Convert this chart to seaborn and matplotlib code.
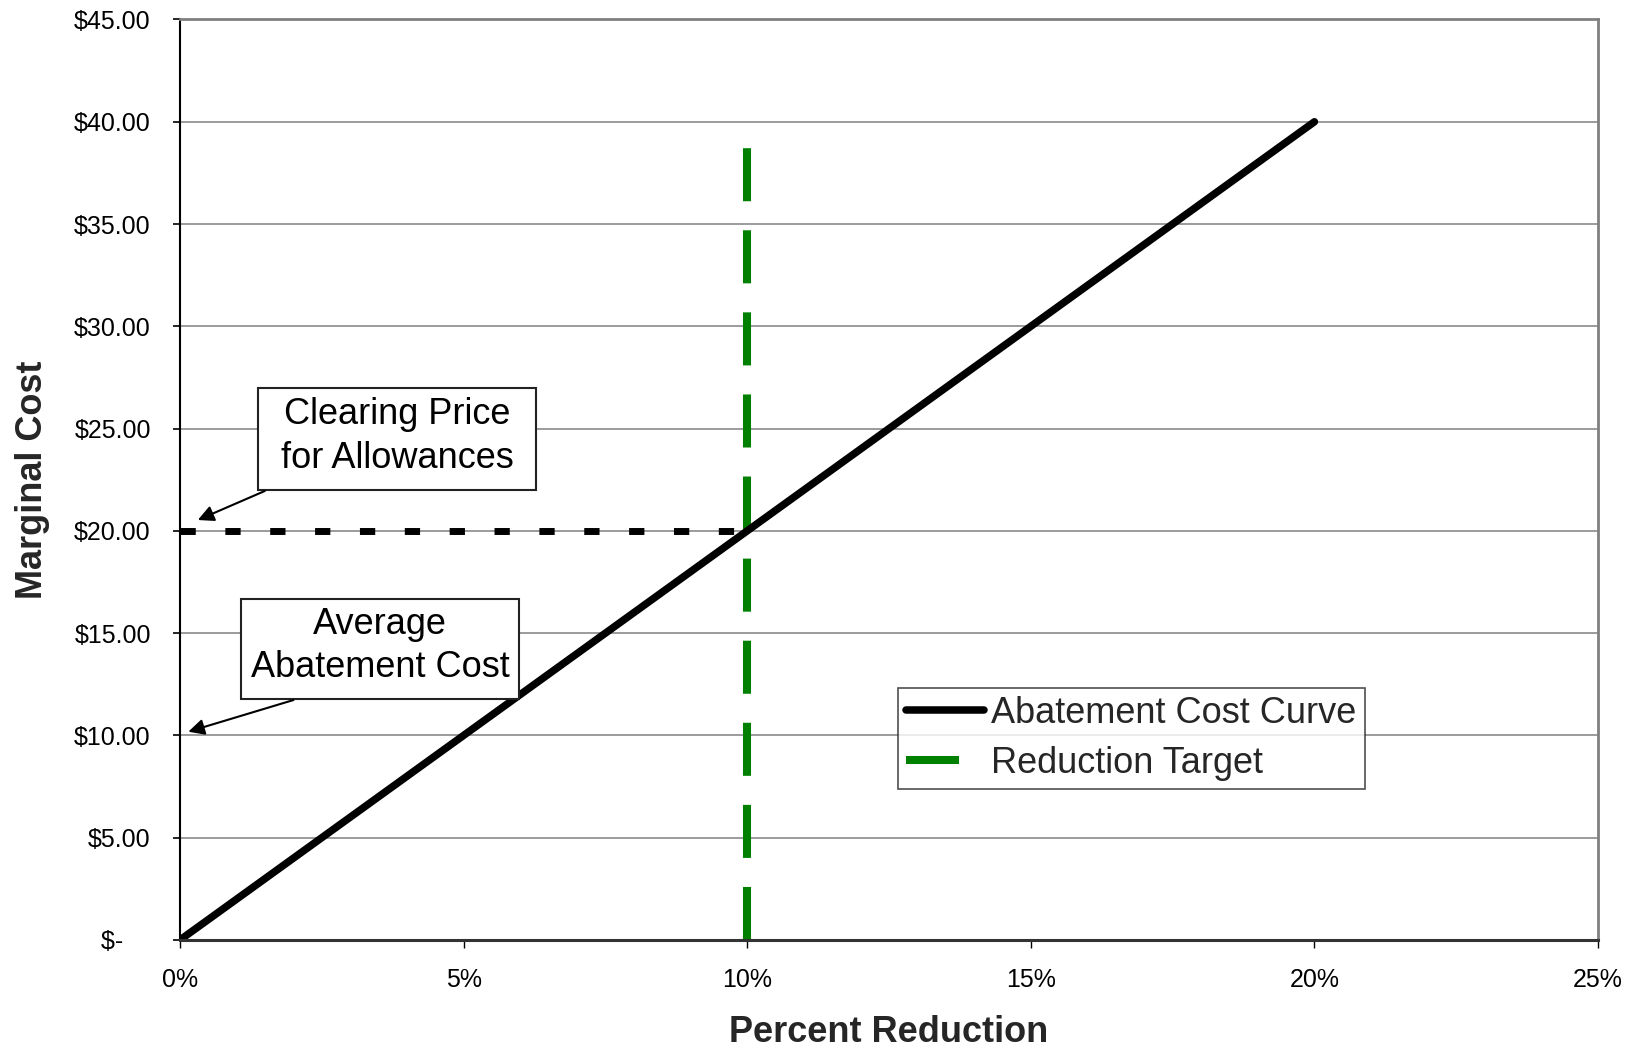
import matplotlib
matplotlib.use("Agg")
import matplotlib.pyplot as plt
import seaborn as sns
from matplotlib.patches import Rectangle
from matplotlib.ticker import FuncFormatter, MultipleLocator

# data
curve_pct = [0.0, 0.20]
curve_cost = [0.0, 40.0]
target_pct = [0.10, 0.10]
target_cost = [0.0, 40.0]
clearing_pct = [0.0, 0.10]
clearing_cost = [20.0, 20.0]

sns.set_style("white")
plt.rcParams["font.family"] = ["Liberation Sans", "DejaVu Sans"]
plt.rcParams["lines.scale_dashes"] = False

fig = plt.figure(figsize=(16.32, 10.48), dpi=100)
ax = fig.add_axes([0.1103, 0.1031, 0.8689, 0.8783])

# gridlines
ax.set_axisbelow(True)
ax.yaxis.grid(True, color="#808080", linewidth=1.1)
ax.xaxis.grid(False)

# horizontal clearing-price line
sns.lineplot(x=clearing_pct, y=clearing_cost, ax=ax, color="black",
             linewidth=5, estimator=None, sort=False)
ax.lines[-1].set_dashes((11, 21.3))
ax.lines[-1].set_clip_on(False)

# reduction target
sns.lineplot(x=target_pct, y=target_cost, ax=ax, color="#008000",
             linewidth=5.8, estimator=None, sort=False, label="Reduction Target")
green = ax.lines[-1]
green.set_dashes((38.2, 20.9))

# abatement cost curve
sns.lineplot(x=curve_pct, y=curve_cost, ax=ax, color="black",
             linewidth=5.4, estimator=None, sort=False, label="Abatement Cost Curve")
black = ax.lines[-1]
black.set_solid_capstyle("round")

ax.set_xlim(0, 0.25)
ax.set_ylim(0, 45)
ax.xaxis.set_major_locator(MultipleLocator(0.05))
ax.yaxis.set_major_locator(MultipleLocator(5))
ax.xaxis.set_major_formatter(FuncFormatter(lambda v, p: f"{v*100:.0f}%"))
ax.yaxis.set_major_formatter(FuncFormatter(lambda v, p: "$-    " if abs(v) < 1e-9 else f"${v:.2f}"))

ax.tick_params(axis="y", direction="out", length=5, width=1.2, pad=16,
               labelsize=18, left=True, colors="black")
ax.tick_params(axis="x", direction="out", length=6, width=1, pad=14,
               labelsize=18, bottom=True, colors="black")

for side in ["top", "right"]:
    ax.spines[side].set_color("#808080")
    ax.spines[side].set_linewidth(2)
ax.spines["left"].set_color("black")
ax.spines["left"].set_linewidth(1.5)
ax.spines["bottom"].set_color("#333333")
ax.spines["bottom"].set_linewidth(2.2)

ax.set_xlabel("Percent Reduction", fontsize=26, fontweight="bold", labelpad=17)
ax.set_ylabel("Marginal Cost", fontsize=26, fontweight="bold", labelpad=17)

# annotation boxes (drawn as rectangles, text centred, arrows separate)
arrow = dict(arrowstyle="-|>", color="black", linewidth=1.5, mutation_scale=24,
             shrinkA=0, shrinkB=0)
notes = [
    ("Clearing Price\nfor Allowances", (0.0138, 21.99), 0.04893, 4.97,
     (0.01495, 21.95), (0.00314, 20.53)),
    ("Average\nAbatement Cost", (0.01075, 11.76), 0.04907, 4.91,
     (0.02001, 11.73), (0.00146, 10.18)),
]
for txt, (x0, y0), w, h, start, tip in notes:
    ax.add_patch(Rectangle((x0, y0), w, h, facecolor="white", edgecolor="#222222",
                           linewidth=1.5, zorder=5))
    ax.text(x0 + w / 2, y0 + h / 2 + 0.15, txt, ha="center", va="center", fontsize=26,
            linespacing=1.32, zorder=6, color="black")
    ax.annotate("", xy=tip, xytext=start, arrowprops=arrow, zorder=6)

leg = ax.legend(handles=[black, green], loc="upper left", bbox_to_anchor=(0.5063, 0.2738),
                borderaxespad=0, fontsize=26, frameon=True, fancybox=False,
                handlelength=2.17, handletextpad=0.2, labelspacing=0.42,
                borderpad=0.22)
leg.get_frame().set_edgecolor("#222222")
leg.get_frame().set_linewidth(1.2)
leg.set_zorder(7)

fig.savefig("out.png", dpi=100)
